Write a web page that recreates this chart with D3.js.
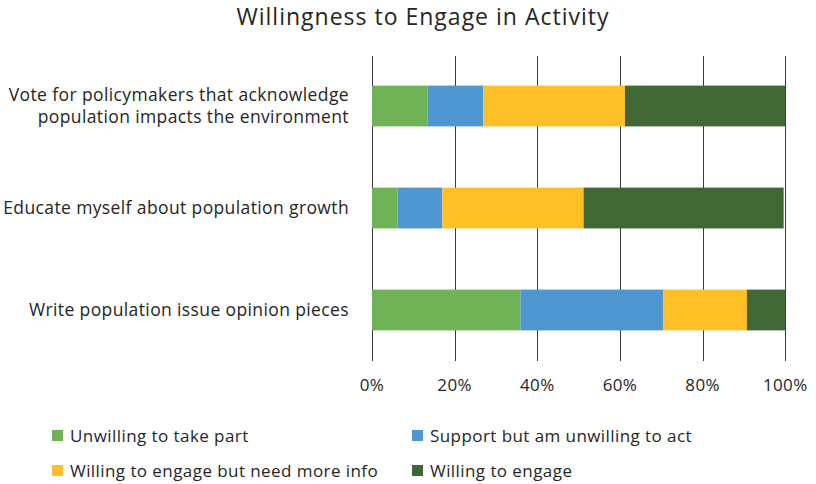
<!DOCTYPE html>
<html><head><meta charset="utf-8">
<script src="https://cdn.jsdelivr.net/npm/d3@7"></script>
<style>body{margin:0;background:#fff}svg{display:block}text{font-family:"Open Sans",sans-serif;fill:#262626}</style>
</head><body><svg id="c" width="816" height="484"></svg>
<script>
const categories = [
  ["Vote for policymakers that acknowledge","population impacts the environment"],
  ["Educate myself about population growth"],
  ["Write population issue opinion pieces"]
];
const seriesNames = ["Unwilling to take part","Support but am unwilling to act","Willing to engage but need more info","Willing to engage"];
const unwilling = [13.4, 6.2, 35.9];
const supportNoAct = [13.5, 10.8, 34.5];
const needInfo = [34.3, 34.2, 20.3];
const willing = [38.8, 48.4, 9.3];
const tickValues = [0,20,40,60,80,100];
const colors = ["#70B356","#4E97D1","#FEBF27","#3F6834"];

const svg = d3.select("#c");
const x = d3.scaleLinear().domain([0,100]).range([372,785.3]);
const y = d3.scaleBand().domain(d3.range(categories.length)).range([55,361]).paddingInner(0.6).paddingOuter(0.3);

svg.append("text").attr("x",423).attr("y",25).attr("text-anchor","middle")
  .style("font-size","23px").style("letter-spacing","1px").text("Willingness to Engage in Activity");

svg.append("g").selectAll("line").data(tickValues).join("line")
  .attr("x1",d=>Math.round(x(d))+0.5).attr("x2",d=>Math.round(x(d))+0.5).attr("y1",56).attr("y2",361)
  .attr("stroke","#3a3a3a").attr("stroke-width",1);

const series = [unwilling, supportNoAct, needInfo, willing];
const rows = categories.map((c,i)=>{const o={};seriesNames.forEach((s,j)=>o[s]=series[j][i]);return o;});
const stacked = d3.stack().keys(seriesNames)(rows);
svg.append("g").selectAll("g").data(stacked).join("g").attr("fill",(d,i)=>colors[i])
  .selectAll("rect").data(d=>d).join("rect")
  .attr("x",d=>x(d[0])).attr("width",d=>x(d[1])-x(d[0]))
  .attr("y",(d,i)=>y(i)).attr("height",y.bandwidth());

svg.append("g").selectAll("text").data(tickValues).join("text")
  .attr("x",d=>x(d)).attr("y",391).attr("text-anchor","middle")
  .style("font-size","17px").style("letter-spacing","0.4px").text(d=>d+"%");

categories.forEach((lines,i)=>{
  const cy = y(i)+y.bandwidth()/2;
  const t = svg.append("text").attr("text-anchor","end").style("font-size","17.5px").style("letter-spacing","0.38px");
  lines.forEach((l,k)=>{
    t.append("tspan").attr("x",349).attr("y",cy + (k-(lines.length-1)/2)*22 + 6).text(l);
  });
});

const legPos = [[52,436],[412,436],[52,471],[412,471]];
const lg = svg.append("g").selectAll("g").data(seriesNames).join("g").attr("transform",(d,i)=>`translate(${legPos[i][0]},${legPos[i][1]})`);
lg.append("rect").attr("x",0).attr("y",-6).attr("width",11).attr("height",11).attr("fill",(d,i)=>colors[i]);
lg.append("text").attr("x",18).attr("y",6).style("font-size","17px").style("letter-spacing","0.43px").text(d=>d);
</script></body></html>
